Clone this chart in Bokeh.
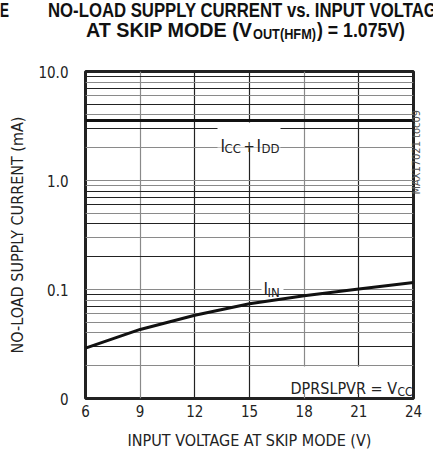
import math
from bokeh.plotting import figure
from bokeh.layouts import column
from bokeh.models import Range1d, FixedTicker, Grid, Label, BoxAnnotation, Div, LogAxis
from bokeh.embed import file_html
from bokeh.resources import INLINE

# ---- data ----
vin = [6, 9, 12, 15, 18, 21, 24]
i_in = [0.029, 0.043, 0.058, 0.074, 0.0875, 0.101, 0.116]
i_cc_dd = [3.55, 3.55, 3.55, 3.55, 3.55, 3.55, 3.55]
x_ticks = [6, 9, 12, 15, 18, 21, 24]
y_ticks = [0.01, 0.1, 1.0, 10.0]
y_tick_labels = ["0", "0.1", "1.0", "10.0"]

FONT = "DejaVu Sans Condensed, Roboto, sans-serif"
TXT = "#222222"
W = 433

# ---- title (HTML/SVG text so that subscripts sit right) ----
title_svg = f"""
<svg xmlns="http://www.w3.org/2000/svg" width="{W}" height="56" style="display:block;overflow:hidden">
<g font-family="{FONT}" font-weight="bold" fill="#111111">
<text x="0" y="17" font-size="20" textLength="9" lengthAdjust="spacingAndGlyphs">E</text>
<text x="48" y="17" font-size="20" textLength="400" lengthAdjust="spacingAndGlyphs">NO-LOAD SUPPLY CURRENT vs. INPUT VOLTAGE</text>
<text x="86" y="37" font-size="20" textLength="166" lengthAdjust="spacingAndGlyphs">AT SKIP MODE (V</text>
<text x="253" y="39" font-size="14" textLength="63" lengthAdjust="spacingAndGlyphs">OUT(HFM)</text>
<text x="317" y="37" font-size="20" textLength="88" lengthAdjust="spacingAndGlyphs">) = 1.075V)</text>
</g>
</svg>
"""
title = Div(text=title_svg, width=W, height=56, margin=0)

p = figure(width=W, height=396, output_backend="svg", toolbar_location=None,
           y_axis_type="log", x_range=Range1d(6, 24), y_range=Range1d(0.01, 10),
           min_border_left=85, min_border_right=20, min_border_top=15, min_border_bottom=53,
           background_fill_color="white", border_fill_color="white")
p.grid.visible = False
p.outline_line_color = "#222222"
p.outline_line_width = 3

for ax in (p.xaxis[0], p.yaxis[0]):
    ax.axis_line_color = None
    ax.major_tick_line_color = None
    ax.minor_tick_line_color = None
    ax.major_tick_out = 0
    ax.minor_tick_out = 0
    ax.major_label_text_font = FONT
    ax.major_label_text_font_size = "15px"
    ax.major_label_text_color = TXT
    ax.axis_label_text_font = FONT
    ax.axis_label_text_font_size = "16px"
    ax.axis_label_text_font_style = "normal"
    ax.axis_label_text_color = TXT

p.xaxis.ticker = FixedTicker(ticks=x_ticks)
p.xaxis.major_label_standoff = 6
p.xaxis.axis_label = "INPUT VOLTAGE AT SKIP MODE (V)"
p.xaxis.axis_label_standoff = 11

p.yaxis.ticker = FixedTicker(ticks=y_ticks, minor_ticks=[])
p.yaxis.major_label_overrides = {t: s for t, s in zip(y_ticks, y_tick_labels)}
p.yaxis.major_label_standoff = 17
p.yaxis.axis_label = "NO-LOAD SUPPLY CURRENT (mA)"
p.yaxis.axis_label_standoff = 8

# watermark as the single label of a bare right axis (reads bottom to top)
wm_at = [7.1]
wm = LogAxis(ticker=FixedTicker(ticks=wm_at, minor_ticks=[]),
             major_label_overrides={wm_at[0]: "MAX17021 toc09"},
             major_label_orientation=math.pi / 2,
             axis_line_color=None, major_tick_line_color=None, minor_tick_line_color=None,
             major_tick_out=0, minor_tick_out=0,
             major_label_standoff=3, major_label_text_font=FONT,
             major_label_text_font_size="11px", major_label_text_color="#555555")
p.add_layout(wm, "right")

# grids (alternating dark / grey lines as in the printed chart)
vx_dark = [12, 15, 21]
vx_grey = [9, 18]
hy_dark = [9, 7, 5, 3, 0.8, 0.7, 0.6, 0.4, 0.2, 0.09, 0.07, 0.03]
hy_grey = [8, 6, 4, 2, 1.0, 0.9, 0.5, 0.3, 0.1, 0.08, 0.06, 0.05, 0.04, 0.02]
for ticks, col, dim in ((vx_dark, "#222222", 0), (vx_grey, "#8a8a8a", 0),
                        (hy_dark, "#222222", 1), (hy_grey, "#8a8a8a", 1)):
    g = Grid(dimension=dim, ticker=FixedTicker(ticks=ticks, minor_ticks=[]),
             grid_line_color=col, grid_line_width=1.2)
    p.add_layout(g, "center")

# curves
p.line(vin, i_cc_dd, line_color="#111111", line_width=3)
p.line(vin, i_in, line_color="#111111", line_width=3)

# white boxes behind in-plot labels (screen units, frame-relative)
for l, r, b, t in ((132, 195, 251, 276), (176, 198, 105, 125), (203, 324, 5, 32)):
    p.add_layout(BoxAnnotation(left=l, right=r, bottom=b, top=t,
                               left_units="screen", right_units="screen",
                               bottom_units="screen", top_units="screen",
                               fill_color="white", fill_alpha=1.0, line_color=None))

def lab(text, x, y, size, color=TXT):
    p.add_layout(Label(x=x, y=y, x_units="screen", y_units="screen", text=text,
                       text_font=FONT, text_font_size=f"{size}px",
                       text_color=color, text_align="left",
                       text_baseline="alphabetic"))

lab("I", 135, 253, 17)
lab("CC", 139, 250, 13)
lab("+", 158, 253, 15)
lab("I", 171, 253, 17)
lab("DD", 176, 250, 13)

lab("I", 178, 110, 17)
lab("IN", 182, 106, 13)

lab("DPRSLPVR = V", 205, 10, 16)
lab("CC", 312, 7, 12)

open("out.html", "w").write(file_html(column(title, p, spacing=0), INLINE))
